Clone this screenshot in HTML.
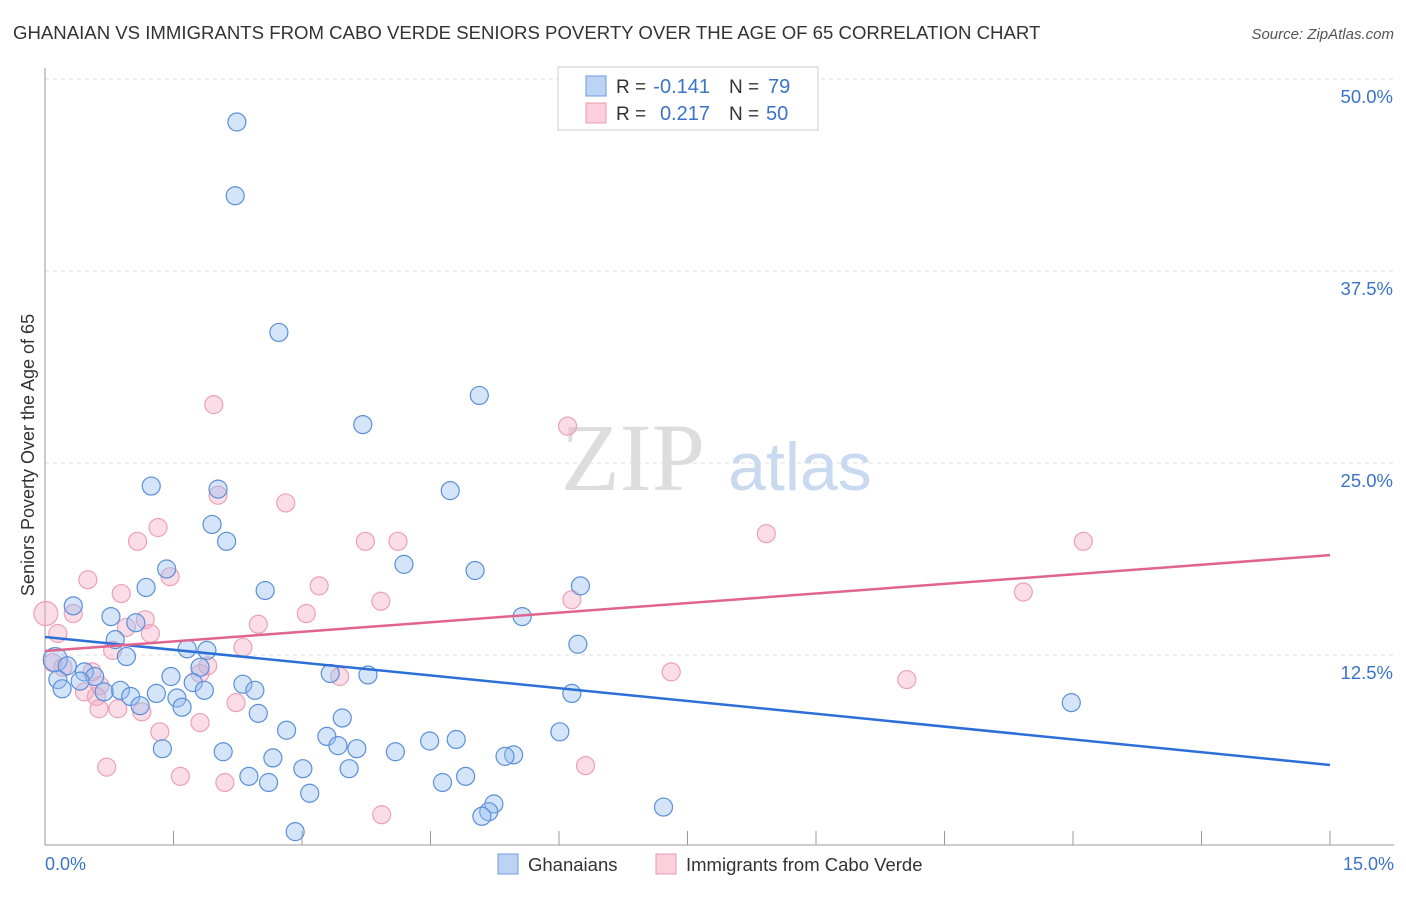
<!DOCTYPE html>
<html><head><meta charset="utf-8"><style>
body{margin:0;background:#fff;font-family:"Liberation Sans",sans-serif;}
</style></head><body>
<svg width="1406" height="892" xmlns="http://www.w3.org/2000/svg">
<text x="13" y="39" font-size="18.6" fill="#333">GHANAIAN VS IMMIGRANTS FROM CABO VERDE SENIORS POVERTY OVER THE AGE OF 65 CORRELATION CHART</text>
<text x="1394" y="39" font-size="15" fill="#555" font-style="italic" text-anchor="end">Source: ZipAtlas.com</text>
<g id="grid"></g>
<text x="633" y="490" font-size="96" fill="#ddd" font-family="Liberation Serif,serif" text-anchor="middle">ZIP</text>
<text x="800" y="490" font-size="68" fill="#c9d9ef" text-anchor="middle">atlas</text>
<g id="pts"></g>
<g id="lines"></g>
<text x="34" y="455" font-size="18" fill="#333" text-anchor="middle" transform="rotate(-90 34 455)">Seniors Poverty Over the Age of 65</text>
<text x="45" y="870" font-size="18" fill="#3b73c9">0.0%</text>
<text x="1394" y="870" font-size="18" fill="#3b73c9" text-anchor="end">15.0%</text>
<g>
<rect x="558" y="67" width="260" height="63" fill="#fff" stroke="#ccc"/>
<rect x="586" y="76" width="20" height="20" fill="#bcd4f4" stroke="#6b9be0"/>
<rect x="586" y="103" width="20" height="20" fill="#fbd0dc" stroke="#ec9ab2"/>
<text x="616" y="93" font-size="19" fill="#333">R =</text>
<text x="710" y="93" font-size="20" fill="#3b73c9" text-anchor="end">-0.141</text>
<text x="729" y="93" font-size="19" fill="#333">N =</text>
<text x="768" y="93" font-size="20" fill="#3b73c9">79</text>
<text x="616" y="120" font-size="19" fill="#333">R =</text>
<text x="710" y="120" font-size="20" fill="#3b73c9" text-anchor="end">0.217</text>
<text x="729" y="120" font-size="19" fill="#333">N =</text>
<text x="766" y="120" font-size="20" fill="#3b73c9">50</text>
</g>
<g>
<rect x="498" y="854" width="20" height="20" fill="#bcd4f4" stroke="#6b9be0"/>
<text x="528" y="871" font-size="18.5" fill="#333">Ghanaians</text>
<rect x="656" y="854" width="20" height="20" fill="#fbd0dc" stroke="#ec9ab2"/>
<text x="686" y="871" font-size="18.5" fill="#333">Immigrants from Cabo Verde</text>
</g>
</svg>
<script>
const yTicks=[12.5,25,37.5,50];
const yTickLabels=["12.5%","25.0%","37.5%","50.0%"];
const xTicks=[0,1.5,3,4.5,6,7.5,9,10.5,12,13.5,15];
const blueX=[2.24,2.22,2.73,5.07,3.71,1.24,2.02,4.73,1.95,2.12,4.19,1.42,5.02,1.18,2.57,6.25,0.33,0.77,5.57,1.06,0.82,6.22,1.66,1.89,0.95,0.12,0.26,0.46,1.81,1.47,3.33,3.77,0.58,0.15,0.41,1.73,2.31,0.20,0.88,0.69,1.86,2.45,1.30,1.00,1.54,6.15,1.11,1.60,11.98,2.49,3.47,2.82,6.01,3.29,4.49,4.80,3.42,3.64,1.37,2.08,4.09,5.47,5.37,2.66,3.01,3.55,2.38,4.91,4.64,2.61,3.09,5.24,7.22,5.18,5.10,2.92];
const blueY=[47.2,42.4,33.5,29.4,27.5,23.5,23.3,23.2,21.0,19.9,18.4,18.1,18.0,16.9,16.7,17.0,15.7,15.0,15.0,14.6,13.5,13.2,12.9,12.8,12.4,12.2,11.8,11.4,11.7,11.1,11.3,11.2,11.1,10.9,10.8,10.7,10.6,10.3,10.2,10.1,10.2,10.2,10.0,9.8,9.7,10.0,9.2,9.1,9.4,8.7,8.4,7.6,7.5,7.2,6.9,7.0,6.6,6.4,6.4,6.2,6.2,6.0,5.9,5.8,5.1,5.1,4.6,4.6,4.2,4.2,3.5,2.8,2.6,2.3,2.0,1.0];
const pinkX=[0.01,0.15,0.33,0.50,1.08,1.32,1.46,0.89,1.17,0.95,1.23,0.79,1.97,2.02,2.81,3.74,4.12,3.20,3.92,3.05,2.49,2.31,6.10,8.42,12.12,11.42,6.15,7.31,10.06,3.44,1.81,1.90,0.21,0.55,0.64,0.46,0.60,2.23,0.85,0.63,1.13,1.81,1.34,0.72,1.58,2.10,6.31,3.93,0.09];
const pinkY=[15.2,13.9,15.2,17.4,19.9,20.8,17.6,16.5,14.8,14.3,13.9,12.8,28.8,22.9,22.4,19.9,19.9,17.0,16.0,15.2,14.5,13.0,27.4,20.4,19.9,16.6,16.1,11.4,10.9,11.1,11.3,11.8,11.7,11.4,10.5,10.1,9.8,9.4,9.0,9.0,8.8,8.1,7.5,5.2,4.6,4.2,5.3,2.1,12.0];
const blueTrend=[13.67,5.34];
const pinkTrend=[12.76,19.0];
const NS="http://www.w3.org/2000/svg";
const X=v=>45+v/15*1285, Y=v=>847-v*15.36;
function mk(t,a,p){const e=document.createElementNS(NS,t);for(const k in a)e.setAttribute(k,a[k]);p.appendChild(e);return e;}
const grid=document.getElementById('grid');
yTicks.forEach((t,i)=>{
 const l=mk('line',{x1:45,x2:1394,y1:Y(t),y2:Y(t),stroke:'#ddd','stroke-dasharray':'4 4'},grid);
 
 
 const tx=mk('text',{x:1393,y:Y(t)+24,'font-size':18.5,fill:'#3b73c9','text-anchor':'end'},grid);
 tx.textContent=yTickLabels[i];
 
 
});
const ax=mk('line',{x1:45,x2:1394,y1:845,y2:845,stroke:'#999'},grid);


const ay=mk('line',{x1:45,x2:45,y1:68,y2:845,stroke:'#999'},grid);


xTicks.forEach(t=>{const l=mk('line',{x1:X(t),x2:X(t),y1:831,y2:845,stroke:'#999'},grid);
 
 });
const pts=document.getElementById('pts');
pinkX.forEach((x,i)=>{const c=mk('circle',{cx:X(x),cy:Y(pinkY[i]),r:i==0?12:9,fill:'rgba(246,170,195,0.4)',stroke:'#eda0b8','stroke-width':1.2},pts);
 
 });
blueX.forEach((x,i)=>{const c=mk('circle',{cx:X(x),cy:Y(blueY[i]),r:i==25?12:9,fill:'rgba(150,190,240,0.4)',stroke:'#5a8fd8','stroke-width':1.2},pts);
 
 });
const lines=document.getElementById('lines');
const bl=mk('line',{x1:X(0),y1:Y(blueTrend[0]),x2:X(15),y2:Y(blueTrend[1]),stroke:'#2c6fd6','stroke-width':2.5},lines);


const pl=mk('line',{x1:X(0),y1:Y(pinkTrend[0]),x2:X(15),y2:Y(pinkTrend[1]),stroke:'#e0648f','stroke-width':2.5},lines);


</script>
</body></html>
